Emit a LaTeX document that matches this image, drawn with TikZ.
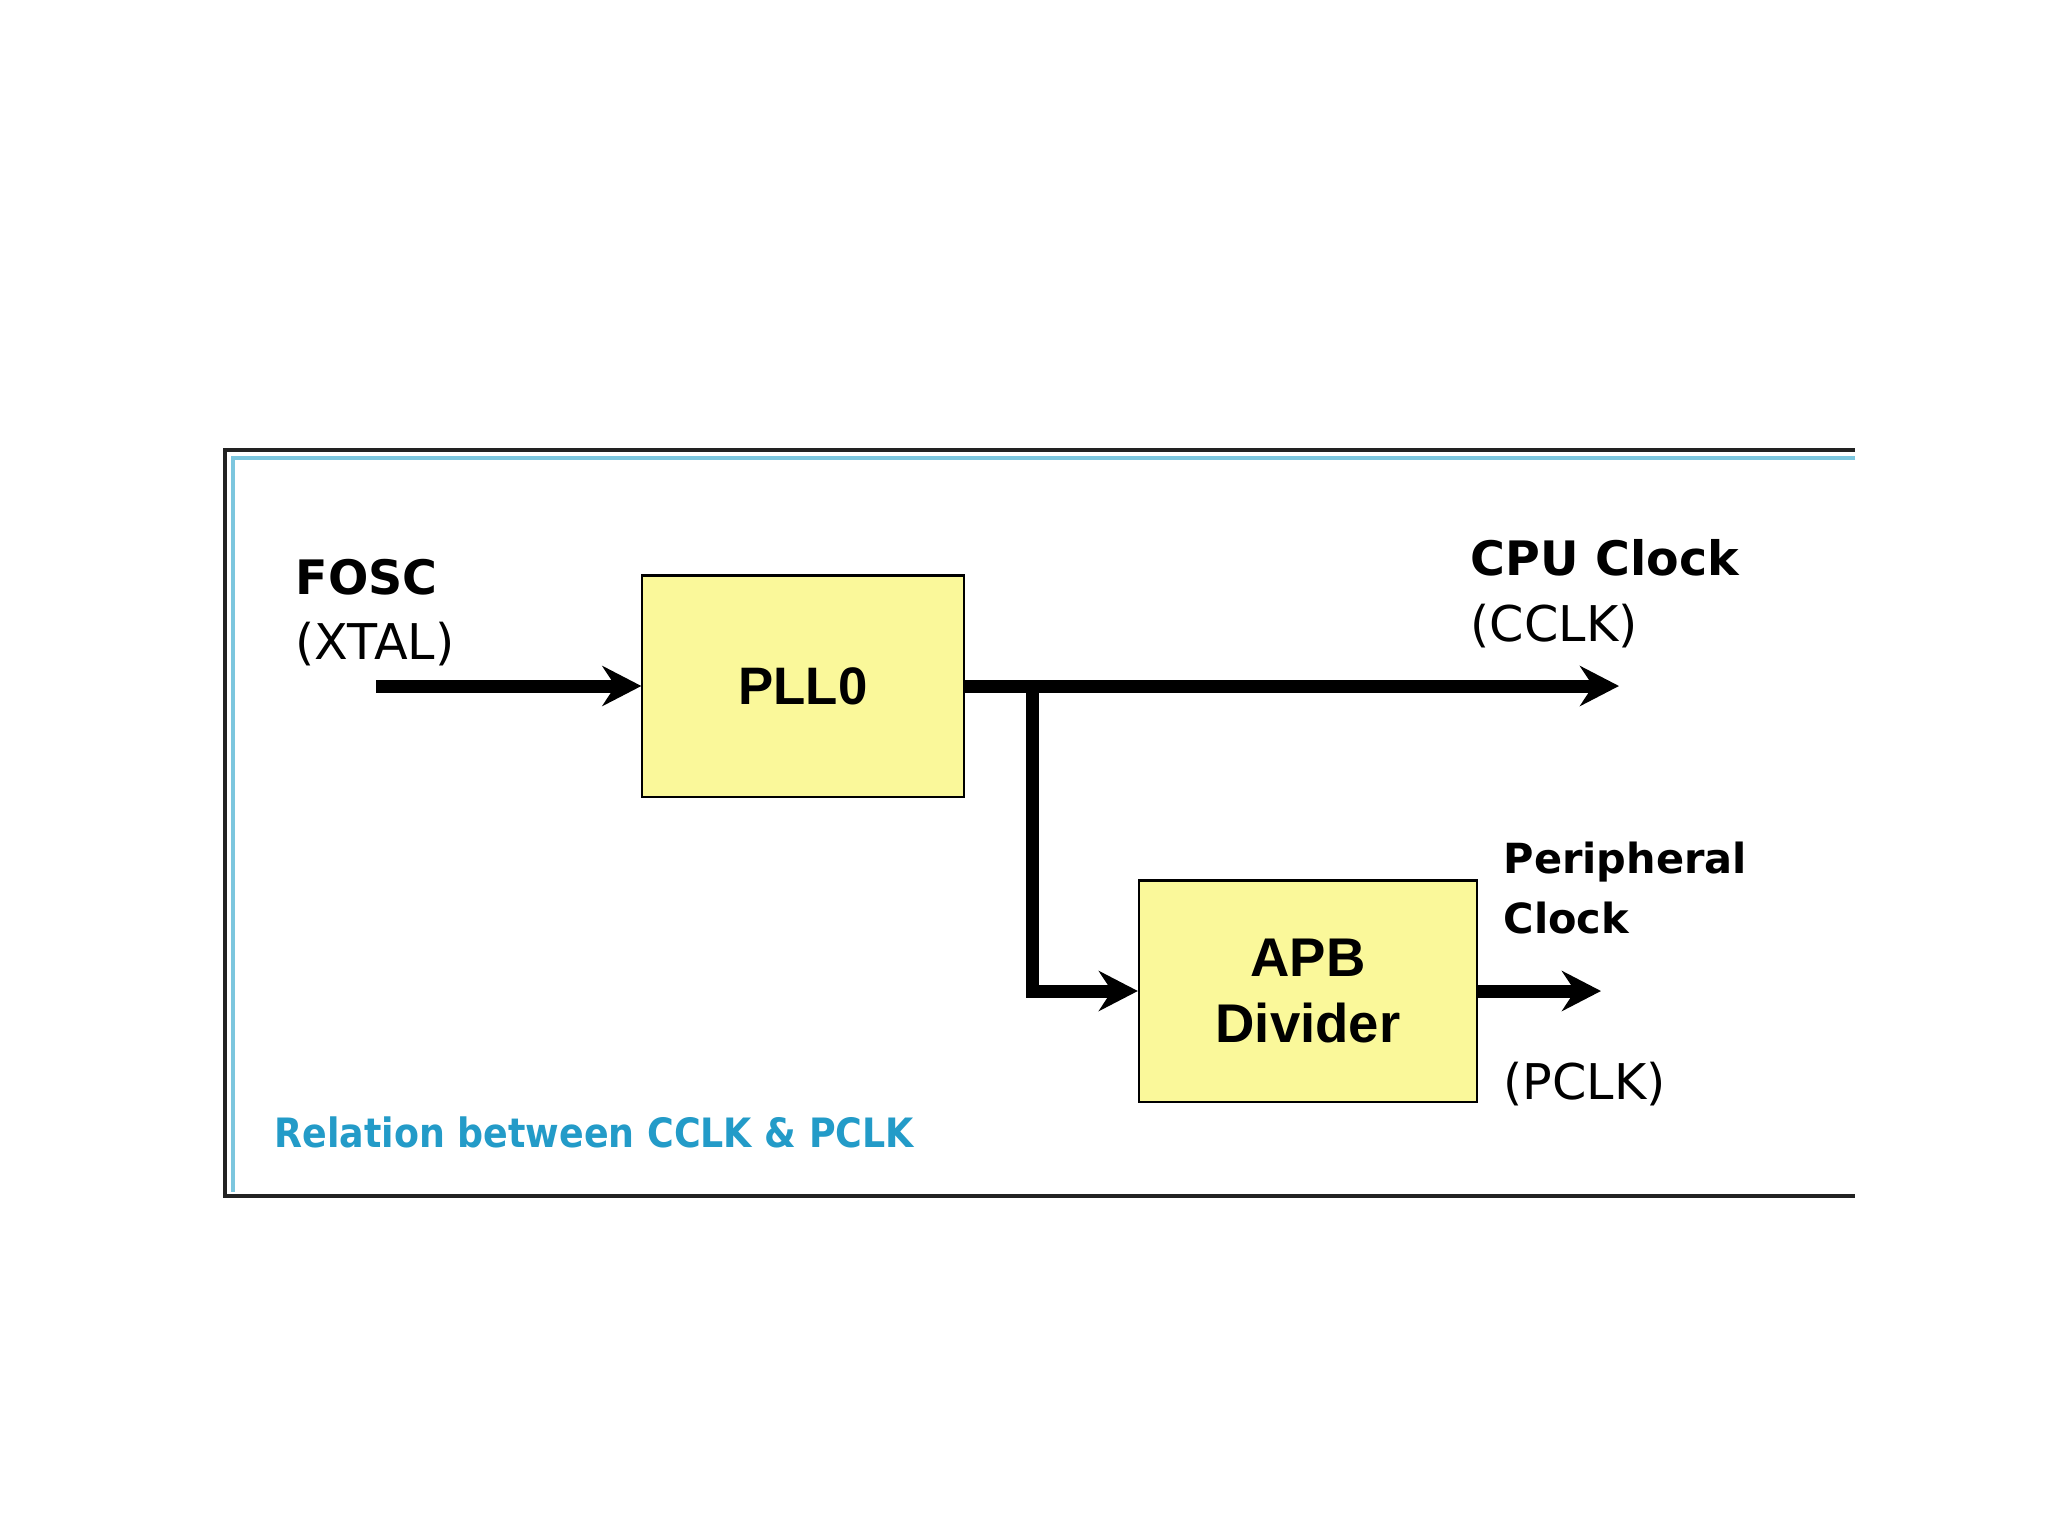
\documentclass[tikz,border=0pt]{standalone}
\usepackage{fontspec}
\setmainfont{DejaVu Sans}
\newfontfamily\condfont{DejaVu Sans Condensed}
\newfontfamily\arialfont{Liberation Sans}
\usepackage{tikz}
\usetikzlibrary{arrows.meta,positioning,calc}
\definecolor{boxyellow}{HTML}{FAF89A}
\definecolor{framecyan}{HTML}{7CC6DE}
\definecolor{captioncyan}{RGB}{35,155,200}
\definecolor{framedark}{HTML}{222222}

\begin{document}
\begin{tikzpicture}[
			x=0.01cm,y=-0.01cm,
			block/.style={draw=black,line width=0.6pt,fill=boxyellow,minimum width=3.21cm,minimum height=2.21cm,align=center,inner sep=0pt,font=\arialfont\bfseries\fontsize{15}{20}\selectfont},
			boldlbl/.style={anchor=west,inner sep=0pt,font=\bfseries\fontsize{13.5}{16}\selectfont},
			plainlbl/.style={anchor=west,inner sep=0pt,font=\fontsize{14}{16}\selectfont},
			sig/.style={line width=0.13cm,-{Stealth[length=0.39cm,width=0.40cm,inset=0.13cm]}}
			]
			\useasboundingbox[fill=white] (0,0) rectangle (2048,1536);
			% frame, open on the right
			\draw[framecyan,line width=1.4pt] (1855,458) -- (233,458) -- (233,1192);
			\draw[framedark,line width=1.3pt] (1855,450) -- (225,450) -- (225,1196) -- (1855,1196);
			\node[block] (pll) at (803,686) {PLL0};
			\node[block,minimum width=3.38cm,font=\arialfont\bfseries\fontsize{15.5}{18.5}\selectfont] (apb) at (1308,991) {APB\\Divider};
			\coordinate (fosc) at (376,686);
			\coordinate (cclk) at (1619,686);
			\coordinate (pclk) at (1601,991);
			\coordinate (br) at (1032,686);
			\node[boldlbl] (foscl) at (295,577) {FOSC};
			\node[plainlbl] (xtal) at (295,644) {(XTAL)};
			\node[boldlbl] (cpul) at (1470,558) {CPU Clock};
			\node[plainlbl] (cclkl) at (1470,626) {(CCLK)};
			\node[boldlbl,align=left,font=\bfseries\fontsize{11.8}{16.8}\selectfont] (perl) at (1503,888) {Peripheral\\Clock};
			\node[plainlbl] (pclkl) at (1503,1084) {(PCLK)};
			\node[anchor=west,inner sep=0pt,text=captioncyan,font=\condfont\bfseries\fontsize{11.5}{14}\selectfont] (cap) at (274,1132) {Relation between CCLK \& PCLK};
			\draw[sig] (fosc) -- (pll.west);
			\draw[sig] (pll.east) -- (cclk);
			\draw[sig] (br) |- (apb.west);
			\draw[sig] (apb.east) -- (pclk);
		\end{tikzpicture}
\end{document}
